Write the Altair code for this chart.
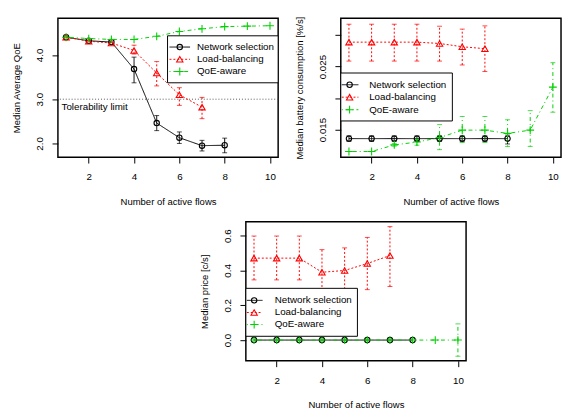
import altair as alt
import pandas as pd

FONT = "Liberation Sans"

series_names = ["Network selection", "Load-balancing", "QoE-aware"]
series_colors = ["#000000", "#FF0000", "#00D000"]
series_dashes = [[1, 0], [2, 2], [1, 3, 4, 3]]

flows = [1, 2, 3, 4, 5, 6, 7, 8, 9, 10]

# ---- Panel 1: Median Average QoE ----
qoe_ns = [4.40, 4.32, 4.29, 3.68, 2.46, 2.13, 1.95, 1.96]
qoe_ns_lo = [4.40, 4.32, 4.29, 3.37, 2.29, 2.00, 1.83, 1.79]
qoe_ns_hi = [4.40, 4.32, 4.29, 3.95, 2.63, 2.26, 2.07, 2.12]
qoe_lb = [4.40, 4.31, 4.27, 4.10, 3.59, 3.10, 2.82]
qoe_lb_lo = [4.40, 4.31, 4.27, 4.02, 3.30, 2.86, 2.56]
qoe_lb_hi = [4.40, 4.31, 4.27, 4.22, 3.85, 3.26, 3.04]
qoe_qa = [4.40, 4.37, 4.35, 4.35, 4.42, 4.53, 4.59, 4.64, 4.65, 4.66]
qoe_qa_lo = qoe_qa
qoe_qa_hi = qoe_qa
tol_value = [3.0]
tol_label = ["Tolerability limit"]
tol_label_pos = [0.8, 2.82]

# ---- Panel 2: Median battery consumption ----
bat_ns = [0.01355] * 8
bat_ns_lo = [0.0131] * 7 + [0.0127]
bat_ns_hi = [0.0140] * 7 + [0.0141]
bat_lb = [0.02889, 0.02889, 0.02889, 0.02889, 0.02868, 0.02816, 0.02785]
bat_lb_lo = [0.02588, 0.02588, 0.02588, 0.02588, 0.02588, 0.02526, 0.02422]
bat_lb_hi = [0.03174, 0.03174, 0.03174, 0.03174, 0.03142, 0.03096, 0.03148]
bat_qa = [0.01150, 0.01150, 0.01255, 0.01300, 0.01371, 0.01490, 0.01490, 0.01438, 0.01490, 0.02174]
bat_qa_lo = [0.01150, 0.01150, 0.01235, 0.01250, 0.01180, 0.01293, 0.01293, 0.01231, 0.01231, 0.01775]
bat_qa_hi = [0.01150, 0.01150, 0.01275, 0.01340, 0.01578, 0.01707, 0.01707, 0.01655, 0.01800, 0.02562]

# ---- Panel 3: Median price ----
price_ns = [0.0] * 8
price_ns_lo = price_ns
price_ns_hi = price_ns
price_lb = [0.471, 0.471, 0.471, 0.390, 0.400, 0.440, 0.486]
price_lb_lo = [0.346, 0.346, 0.346, 0.260, 0.270, 0.290, 0.308]
price_lb_hi = [0.598, 0.598, 0.598, 0.520, 0.530, 0.590, 0.652]
price_qa = [0.0] * 10
price_qa_lo = [0.0] * 9 + [-0.093]
price_qa_hi = [0.0] * 9 + [0.093]

marker_shapes = ["circle", "triangle-up", "M-1,0H1M0,-1V1"]
marker_sizes = [30, 42, 64]

RES = dict(color="independent", strokeDash="independent")

# legend box layout (pixels inside each plot area): box x, y, w, h, line x0, x1, marker x, text x, rows y
legend_layout_1 = dict(box=(112, 18, 113, 48), line=(114, 135), mx=124.5, tx=142, rows=(29.5, 42, 54.5))
legend_layout_2 = dict(box=(0, 56, 114, 49), line=(1, 18), mx=9, tx=29, rows=(68, 80.7, 93.5))
legend_layout_3 = dict(box=(0, 68, 114, 49), line=(1, 17), mx=8.5, tx=29.5, rows=(80.3, 92.7, 105))


def make_df(vals, los, his):
    rows = []
    for name, v, lo, hi in zip(series_names, vals, los, his):
        for i in range(len(v)):
            rows.append({"x": flows[i], "value": v[i], "lo": lo[i], "hi": hi[i], "series": name})
    return pd.DataFrame(rows)


def legend_layers(lay):
    bx, by, bw, bh = lay["box"]
    one = pd.DataFrame({"k": [0]})
    out = [alt.Chart(one).mark_rect(fill="white", stroke="black", strokeWidth=1).encode(
        x=alt.value(bx), x2=alt.value(bx + bw), y=alt.value(by), y2=alt.value(by + bh))]
    for name, col, dsh, shp, sz, ry in zip(series_names, series_colors, series_dashes,
                                          marker_shapes, marker_sizes, lay["rows"]):
        c = alt.Chart(pd.DataFrame({"label": [name]}))
        out.append(c.mark_rule(color=col, strokeDash=dsh, strokeWidth=1).encode(
            x=alt.value(lay["line"][0]), x2=alt.value(lay["line"][1]), y=alt.value(ry)))
        out.append(c.mark_point(shape=shp, size=sz, filled=False, color=col, strokeWidth=1.1, opacity=1).encode(
            x=alt.value(lay["mx"]), y=alt.value(ry)))
        out.append(c.mark_text(align="left", baseline="middle", fontSize=10, font=FONT, color="black").encode(
            x=alt.value(lay["tx"]), y=alt.value(ry), text="label:N"))
    return out


def panel(df, ydomain, yvalues, label_expr, ytitle, lay, extra=None):
    xscale = alt.Scale(domain=[0.64, 10.36], nice=False, zero=False)
    yscale = alt.Scale(domain=ydomain, nice=False, zero=False)
    xaxis = alt.Axis(values=[2, 4, 6, 8, 10], title="Number of active flows",
                     labelPadding=9, titlePadding=15)
    yaxis = alt.Axis(values=yvalues, labelExpr=label_expr, title=ytitle,
                     labelAngle=270, labelAlign="center", labelBaseline="bottom",
                     labelPadding=8, minExtent=25, maxExtent=25, titlePadding=12)

    def X():
        return alt.X("x:Q", scale=xscale, axis=xaxis)

    def Y(field):
        return alt.Y(field + ":Q", scale=yscale, axis=yaxis)

    cscale = alt.Scale(domain=series_names, range=series_colors)
    color = alt.Color("series:N", scale=cscale, legend=None)
    dash = alt.StrokeDash("series:N", scale=alt.Scale(domain=series_names, range=series_dashes), legend=None)
    base = alt.Chart(df)

    layers = []
    if extra is not None:
        layers.extend(extra)
    layers.append(base.mark_line(strokeWidth=1).encode(x=X(), y=Y("value"), color=color, strokeDash=dash))
    err = base.transform_filter("datum.hi > datum.lo")
    layers.append(err.mark_rule(strokeWidth=1).encode(x=X(), y=Y("lo"), y2="hi:Q", color=color, strokeDash=dash))
    for fld in ["lo", "hi"]:
        layers.append(err.mark_point(shape="M-1,0H1", size=25, filled=False, strokeWidth=1)
                      .encode(x=X(), y=Y(fld), color=color))
    for name, shp, sz, col in zip(series_names, marker_shapes, marker_sizes, series_colors):
        layers.append(base.transform_filter(alt.datum.series == name)
                      .mark_point(shape=shp, size=sz, filled=False, strokeWidth=1.1, color=col, opacity=1)
                      .encode(x=X(), y=Y("value")))
    layers.extend(legend_layers(lay))
    return alt.layer(*layers).properties(width=225, height=142)


# Panel 1 extras: tolerability limit
tol_df = pd.DataFrame({"y": tol_value})
tol_text_df = pd.DataFrame({"x": [tol_label_pos[0]], "y": [tol_label_pos[1]], "t": tol_label})
p1_yscale = alt.Scale(domain=[1.69, 4.83], nice=False, zero=False)
tol_rule = alt.Chart(tol_df).mark_rule(color="#555555", strokeDash=[1, 2], strokeWidth=1).encode(
    y=alt.Y("y:Q", scale=p1_yscale))
tol_text = alt.Chart(tol_text_df).mark_text(align="left", baseline="middle", fontSize=10, font=FONT,
                                            color="black").encode(
    x=alt.X("x:Q", scale=alt.Scale(domain=[0.64, 10.36], nice=False, zero=False)),
    y=alt.Y("y:Q", scale=p1_yscale), text="t:N")

df1 = make_df([qoe_ns, qoe_lb, qoe_qa], [qoe_ns_lo, qoe_lb_lo, qoe_qa_lo], [qoe_ns_hi, qoe_lb_hi, qoe_qa_hi])
df2 = make_df([bat_ns, bat_lb, bat_qa], [bat_ns_lo, bat_lb_lo, bat_qa_lo], [bat_ns_hi, bat_lb_hi, bat_qa_hi])
df3 = make_df([price_ns, price_lb, price_qa], [price_ns_lo, price_lb_lo, price_qa_lo],
              [price_ns_hi, price_lb_hi, price_qa_hi])

p1 = panel(df1, [1.69, 4.83], [2.0, 2.5, 3.0, 3.5, 4.0, 4.5],
           "(abs(datum.value-2)<1e-6 || abs(datum.value-3)<1e-6 || abs(datum.value-4)<1e-6) ? format(datum.value, '.1f') : ''",
           "Median Average QoE", legend_layout_1, extra=[tol_rule, tol_text])
p2 = panel(df2, [0.0106, 0.0327], [0.015, 0.020, 0.025, 0.030],
           "(abs(datum.value-0.015)<1e-7 || abs(datum.value-0.025)<1e-7) ? format(datum.value, '.3f') : ''",
           "Median battery consumption [%/s]", legend_layout_2)
p3 = panel(df3, [-0.119, 0.68], [0.0, 0.2, 0.4, 0.6],
           "format(datum.value, '.1f')",
           "Median price [c/s]", legend_layout_3)

spacer = alt.Chart(pd.DataFrame({"a": [0]})).transform_filter("false").mark_point().encode(
    x=alt.X("a:Q", axis=None), y=alt.Y("a:Q", axis=None)
).properties(width=143, height=10, view=alt.ViewBackground(stroke="transparent"))

top = alt.hconcat(p1, p2, spacing=14).resolve_scale(**RES)
bottom = alt.hconcat(spacer, p3, spacing=0).resolve_scale(**RES)
chart = alt.vconcat(top, bottom, spacing=14).resolve_scale(**RES).properties(
    padding={"left": 3, "top": 3, "right": 0, "bottom": 0}
).configure_view(stroke="black", strokeWidth=1.5).configure_axis(
    domain=False, grid=False, tickColor="black", tickSize=6, tickWidth=1,
    labelFont=FONT, labelFontSize=10, labelColor="black",
    titleFont=FONT, titleFontSize=9.7, titleFontWeight="normal", titleColor="black",
)

chart.save("out.html", embed_options={"renderer": "svg", "actions": False})
